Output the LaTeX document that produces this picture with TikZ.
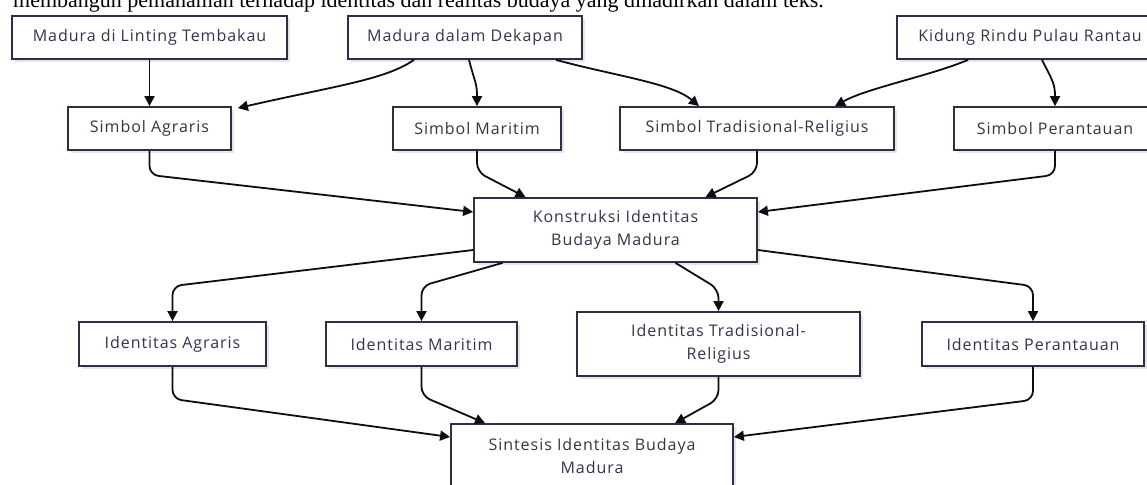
\documentclass[tikz,border=0pt]{standalone}
\usepackage{fontspec}
\setmainfont{Liberation Serif}
\newfontfamily\boxfont[LetterSpace=6]{Open Sans}
\usetikzlibrary{arrows.meta,calc}
\definecolor{boxline}{HTML}{2E2F45}
\definecolor{boxtext}{HTML}{33344A}
\definecolor{edgecol}{HTML}{0E0E0E}
\definecolor{shadowcol}{HTML}{E6E6EA}
\tikzset{
  box/.style={draw=boxline, line width=1.8pt, fill=white, text=boxtext,
    font=\boxfont\fontsize{16}{23}\selectfont, align=center, inner sep=0pt,
    preaction={fill=shadowcol, transform canvas={xshift=3pt,yshift=-3pt}}},
  edge/.style={draw=edgecol, line width=1.8pt, rounded corners=9pt,
    -{Triangle[length=10pt,width=10pt]}},
}
\begin{document}
\begin{tikzpicture}[x=1pt,y=-1pt]
\useasboundingbox (0,0) rectangle (1147,484);
\clip (0,0) rectangle (1147,484);
\fill[white] (0,0) rectangle (1147,484);
\node[anchor=base west, font=\fontsize{22}{26}\selectfont, inner sep=0pt] (cap) at (13,7.5)
  {membangun pemahaman terhadap identitas dan realitas budaya yang dihadirkan dalam teks.};
% row 1
\node[box, minimum width=275pt, minimum height=43pt] (L1) at (149.5,37.5) {Madura di Linting Tembakau};
\node[box, minimum width=234pt, minimum height=43pt] (L2) at (465,37.5) {Madura dalam Dekapan};
\node[box, minimum width=266pt, minimum height=43pt] (L3) at (1030,37.5) {Kidung Rindu Pulau Rantau};
% row 2
\node[box, minimum width=163pt, minimum height=43pt] (S1) at (149.5,128.5) {Simbol Agraris};
\node[box, minimum width=168pt, minimum height=43pt] (S2) at (477,128.5) {Simbol Maritim};
\node[box, minimum width=274pt, minimum height=43pt] (S3) at (757,128.5) {Simbol Tradisional-Religius};
\node[box, minimum width=202pt, minimum height=43pt] (S4) at (1055,128.5) {Simbol Perantauan};
% row 3
\node[box, minimum width=283pt, minimum height=64pt] (K) at (615.5,230) {Konstruksi Identitas\\Budaya Madura};
% row 4
\node[box, minimum width=187pt, minimum height=44pt] (I1) at (172.5,344) {Identitas Agraris};
\node[box, minimum width=191pt, minimum height=44pt] (I2) at (421.5,344) {Identitas Maritim};
\node[box, minimum width=283pt, minimum height=64pt] (I3) at (718.5,344) {Identitas Tradisional-\\Religius};
\node[box, minimum width=222pt, minimum height=44pt] (I4) at (1033,344) {Identitas Perantauan};
% row 5
\node[box, minimum width=282pt, minimum height=64pt] (SI) at (592,456) {Sintesis Identitas Budaya\\Madura};
% edges row1 -> row2
\draw[edge] (L1.south) -- (S1.north);
\draw[edge] ($(L2.south)+(-51,0)$) .. controls ($(L2.south)+(-80,20)$) and ($(L2.south)+(-130,26)$) .. ($(S1.north east)+(6,2)$);
\draw[edge] ($(L2.south)+(4,0)$) .. controls ($(L2.south)+(10,23)$) and ($(S2.north)+(0,-23)$) .. (S2.north);
\draw[edge] ($(L2.south)+(91,0)$) .. controls ($(L2.south)+(150,16)$) and ($(S3.north)+(-85,-23)$) .. ($(S3.north)+(-58,0)$);
\draw[edge] ($(L3.south)+(-62,0)$) .. controls ($(L3.south)+(-100,16)$) and ($(S3.north)+(110,-18)$) .. ($(S3.north)+(78,0)$);
\draw[edge] ($(L3.south)+(12,0)$) .. controls ($(L3.south)+(22,20)$) and ($(S4.north)+(0,-23)$) .. (S4.north);
% row2 -> K
\draw[edge] (S1.south) -- ++(0,24) -- ($(K.west)+(0,-18)$);
\draw[edge] (S2.south) -- ++(0,21) -- ($(K.north)+(-90,0)$);
\draw[edge] (S3.south) -- ++(0,21) -- ($(K.north)+(90,0)$);
\draw[edge] (S4.south) -- ++(0,24) -- ($(K.east)+(0,-18)$);
% K -> row4
\draw[edge] ($(K.west)+(0,20)$) -- ($(I1.north)+(0,-35)$) -- (I1.north);
\draw[edge] ($(K.south)+(-113,0)$) -- ($(I2.north)+(0,-35)$) -- (I2.north);
\draw[edge] ($(K.south)+(60,0)$) -- ($(I3.north)+(0,-22)$) -- (I3.north);
\draw[edge] ($(K.east)+(0,20)$) -- ($(I4.north)+(0,-35)$) -- (I4.north);
% row4 -> SI
\draw[edge] (I1.south) -- ++(0,32) -- ($(SI.west)+(0,-19)$);
\draw[edge] (I2.south) -- ++(0,29) -- ($(SI.north)+(-107,0)$);
\draw[edge] (I3.south) -- ++(0,22) -- ($(SI.north)+(83,0)$);
\draw[edge] (I4.south) -- ++(0,33) -- ($(SI.east)+(0,-19)$);
\end{tikzpicture}
\end{document}
